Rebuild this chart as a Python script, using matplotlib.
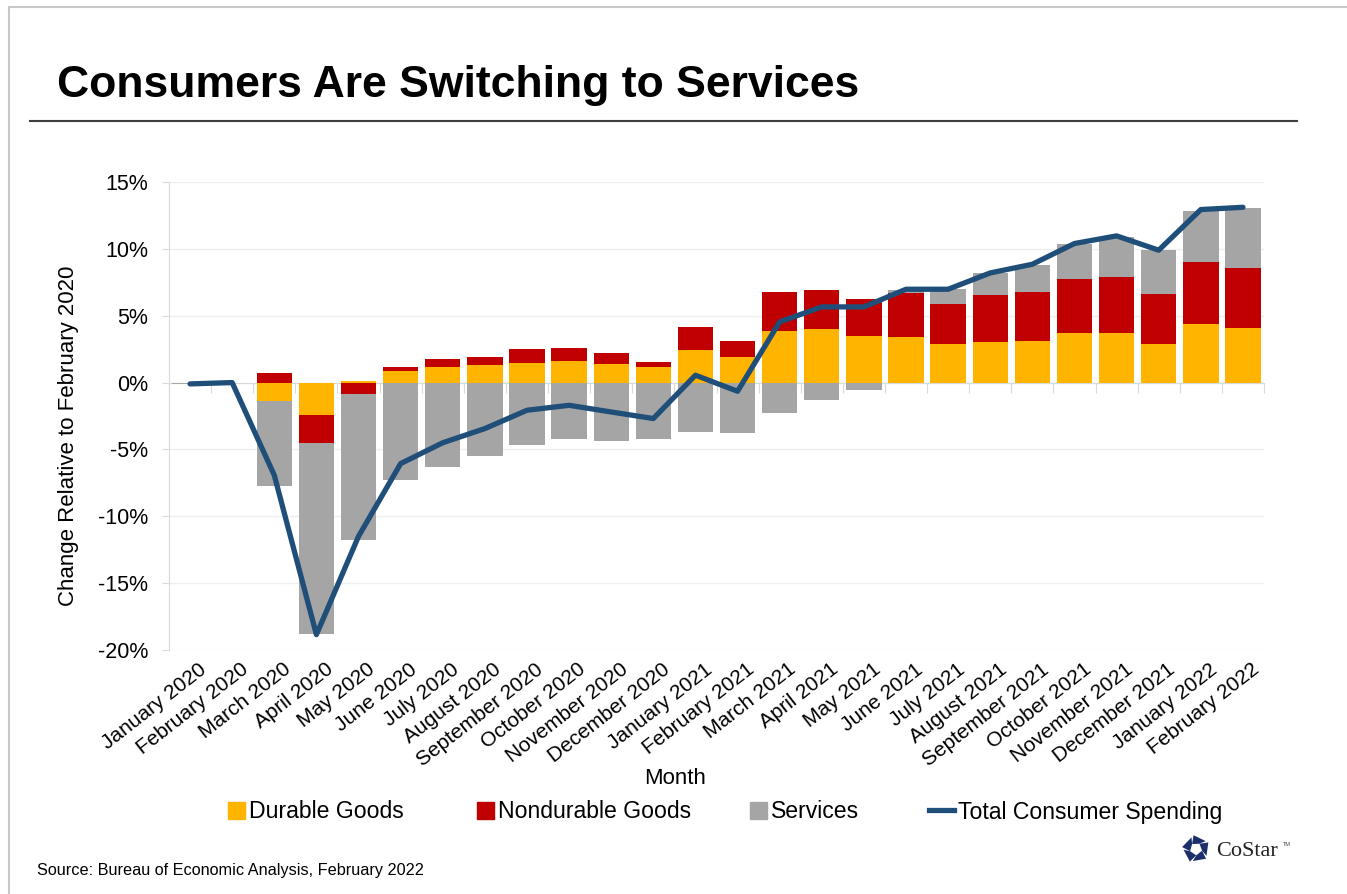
import matplotlib.pyplot as plt
import numpy as np
from matplotlib.patches import Patch, Polygon
from matplotlib.lines import Line2D

plt.rcParams['font.family'] = ['Liberation Sans', 'DejaVu Sans']

months = ["January 2020", "February 2020", "March 2020", "April 2020", "May 2020",
          "June 2020", "July 2020", "August 2020", "September 2020", "October 2020",
          "November 2020", "December 2020", "January 2021", "February 2021",
          "March 2021", "April 2021", "May 2021", "June 2021", "July 2021",
          "August 2021", "September 2021", "October 2021", "November 2021",
          "December 2021", "January 2022", "February 2022"]

# contributions, percent change relative to February 2020
durable = [0.0, 0.0, -1.37, -2.44, 0.1, 0.85, 1.17, 1.35, 1.5, 1.62, 1.42, 1.15, 2.42,
           1.92, 3.87, 4.04, 3.49, 3.42, 2.92, 3.02, 3.09, 3.69, 3.69, 2.92, 4.41, 4.09]
nondurable = [0.0, 0.0, 0.75, -2.07, -0.85, 0.35, 0.62, 0.57, 1.02, 0.95, 0.77, 0.37, 1.72,
              1.17, 2.89, 2.92, 2.77, 3.29, 2.97, 3.54, 3.66, 4.09, 4.24, 3.69, 4.64, 4.51]
services = [-0.1, 0.0, -6.36, -14.26, -10.9, -7.3, -6.3, -5.5, -4.64, -4.24, -4.36, -4.24,
            -3.69, -3.76, -2.24, -1.3, -0.57, 0.2, 1.12, 1.6, 2.07, 2.57, 2.97, 3.29, 3.76, 4.46]
total = [-0.1, 0.0, -6.93, -18.85, -11.5, -6.06, -4.5, -3.44, -2.07, -1.7, -2.2, -2.69, 0.55,
         -0.65, 4.54, 5.66, 5.66, 6.98, 6.98, 8.2, 8.85, 10.4, 10.97, 9.9, 12.94, 13.11]

c_dur = '#FFB500'
c_non = '#C00000'
c_ser = '#A5A5A5'
c_tot = '#1F4E79'
grid_c = '#EFEFEF'
axis_c = '#D9D9D9'

fig = plt.figure(figsize=(13.47, 8.94), dpi=100)
W, H = 1347, 894


def fx(px):
    return px / W


def fy(py):
    return 1 - py / H


# page frame (top and left edges), title and rule
fig.add_artist(Line2D([fx(9), fx(9), fx(1347)], [fy(894), fy(7), fy(7)], color='#C8C8C8',
                      linewidth=1.5, transform=fig.transFigure))
fig.text(fx(57), fy(97), "Consumers Are Switching to Services", fontsize=32,
         fontweight='bold', ha='left', va='baseline')
fig.add_artist(Line2D([fx(30), fx(1297)], [fy(121), fy(121)], color='#404040',
                      linewidth=1.5, transform=fig.transFigure))

ax = fig.add_axes([fx(169), fy(650), (1264 - 169) / W, (650 - 182) / H])
x = np.arange(len(months))

pos_bottom = np.zeros(len(x))
neg_bottom = np.zeros(len(x))
for vals, col in [(durable, c_dur), (nondurable, c_non), (services, c_ser)]:
    v = np.array(vals)
    b = np.where(v >= 0, pos_bottom, neg_bottom)
    ax.bar(x, v, bottom=b, width=0.84, color=col, zorder=2)
    pos_bottom += np.where(v >= 0, v, 0)
    neg_bottom += np.where(v < 0, v, 0)

ax.plot(x, total, color=c_tot, linewidth=3.8, zorder=3, solid_capstyle='round')

ax.set_xlim(-0.5, len(x) - 0.5)
ax.set_ylim(-20, 15)
ax.set_yticks(np.arange(-20, 16, 5))
ax.set_yticklabels([f"{v}%" for v in range(-20, 16, 5)], fontsize=15.5)
ax.yaxis.grid(True, color=grid_c, linewidth=1, zorder=0)
ax.set_axisbelow(True)
for s in ['top', 'right']:
    ax.spines[s].set_visible(False)
ax.spines['left'].set_color(axis_c)
ax.spines['bottom'].set_position(('data', 0))
ax.spines['bottom'].set_color(axis_c)
ax.spines['bottom'].set_zorder(1)
ax.tick_params(axis='y', length=5, color=axis_c, pad=10)

# boundary ticks on the zero line, month labels at the bottom via a secondary axis
ax.set_xticks(np.arange(len(x) + 1) - 0.5)
ax.set_xticklabels([])
ax.tick_params(axis='x', length=7, color=axis_c)
sec = ax.secondary_xaxis(0.0)
sec.set_xticks(x + 0.2)
sec.set_xticklabels(months, rotation=38, ha='right', rotation_mode='anchor', fontsize=15)
sec.tick_params(length=0, pad=7)
sec.spines['bottom'].set_visible(False)

fig.text(fx(69), fy(436), "Change Relative to February 2020", fontsize=16, rotation=90,
         ha='center', va='center')
fig.text(fx(675), fy(778), "Month", fontsize=16, ha='center', va='center')

# legend entries placed one by one to match the spacing of the original
entries = [(Patch(color=c_dur, label="Durable Goods"), 228, 0.75),
           (Patch(color=c_non, label="Nondurable Goods"), 477, 0.75),
           (Patch(color=c_ser, label="Services"), 750, 0.75),
           (Line2D([0], [0], color=c_tot, linewidth=3.8, label="Total Consumer Spending"), 929, 1.1)]
for h, left, hl in entries:
    fig.legend(handles=[h], loc='center left', bbox_to_anchor=(fx(left), fy(812)),
               frameon=False, fontsize=16.6, handlelength=hl, handleheight=0.75,
               handletextpad=0.15, borderpad=0, borderaxespad=0)

fig.text(fx(37), fy(870), "Source: Bureau of Economic Analysis, February 2022",
         fontsize=11.7, ha='left', va='center')

# CoStar logo
cx, cy, r = 1196, 849, 14
for k in range(5):
    a0 = np.deg2rad(100 + 72 * k)
    a1 = np.deg2rad(100 + 72 * (k + 1))
    p0 = (cx + r * np.cos(a0), cy - r * np.sin(a0))
    p1 = (cx + r * np.cos(a1), cy - r * np.sin(a1))
    m0 = (cx + 0.45 * r * np.cos(a0 + 0.5), cy - 0.45 * r * np.sin(a0 + 0.5))
    m1 = (cx + 0.45 * r * np.cos(a1 + 0.5), cy - 0.45 * r * np.sin(a1 + 0.5))
    pts = [(p0[0] + 0.18 * (p1[0] - p0[0]), p0[1] + 0.18 * (p1[1] - p0[1])), p1, m1, m0]
    fig.patches.append(Polygon([(fx(px), fy(py)) for px, py in pts], closed=True,
                               transform=fig.transFigure, facecolor='#1B2F6B', edgecolor='none'))
fig.text(fx(1216), fy(851), "CoStar", fontsize=16, family=['Liberation Serif', 'DejaVu Serif'],
         ha='left', va='center', color='#222222')
fig.text(fx(1283), fy(845), "TM", fontsize=4, ha='left', va='center', color='#444444')

fig.savefig("out.png", dpi=100)
